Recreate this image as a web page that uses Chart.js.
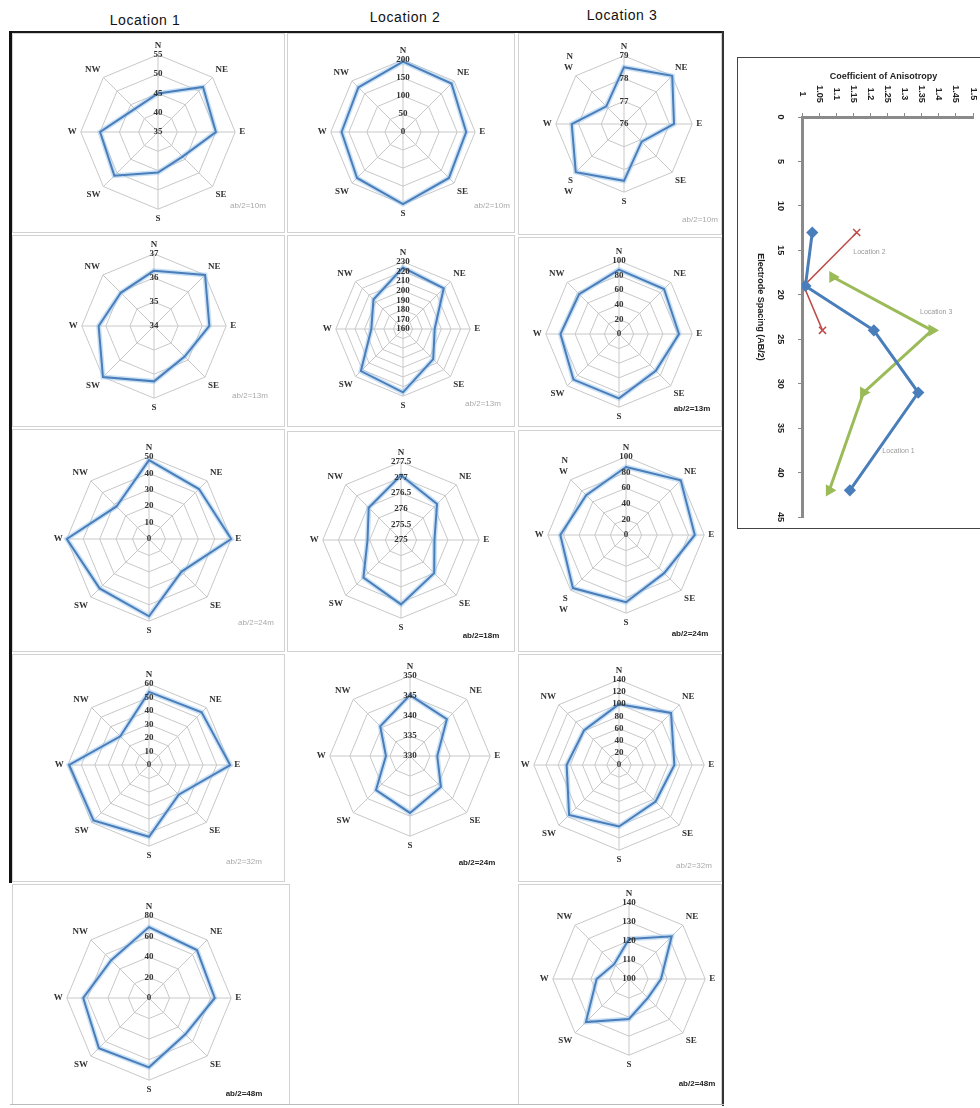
<!DOCTYPE html>
<html>
<head>
<meta charset="utf-8">
<title>Directional resistivity - Locations 1-3</title>
<script src="https://cdn.jsdelivr.net/npm/chart.js@4.4.1/dist/chart.umd.min.js"></script>
<style>
  body { margin: 0; background: #fff; }
  #page { position: relative; width: 980px; height: 1108px; overflow: hidden; font-family: 'Liberation Sans', Arial, sans-serif; }
  .head { position: absolute; font-size: 14px; color: #111; transform: translate(-50%, -50%); white-space: nowrap; letter-spacing: 0.6px; }
  .panel { position: absolute; border: 1px solid #d2d2d2; box-sizing: border-box; }
  .rule { position: absolute; }
  .holder { position: absolute; }
  .tag { position: absolute; font-size: 8px; color: #a9a9a9; transform: translate(-50%, -50%); white-space: nowrap; }
  .tag.dark { color: #222; font-weight: bold; }
</style>
</head>
<body>
<div id="page">
  <div class="head" style="left:145px; top:20px;">Location 1</div>
  <div class="head" style="left:405px; top:17px;">Location 2</div>
  <div class="head" style="left:622px; top:15px;">Location 3</div>

  <!-- column 1 -->
  <div class="panel" style="left:12px; top:33px; width:273px; height:200px;"></div>
  <div class="panel" style="left:12px; top:235px; width:273px; height:192px;"></div>
  <div class="panel" style="left:12px; top:429px; width:273px; height:223px;"></div>
  <div class="panel" style="left:12px; top:654px; width:273px; height:228px;"></div>
  <div class="panel" style="left:12px; top:884px; width:278px; height:221px;"></div>
  <!-- column 2 -->
  <div class="panel" style="left:287px; top:33px; width:228px; height:200px;"></div>
  <div class="panel" style="left:287px; top:235px; width:228px; height:192px;"></div>
  <div class="panel" style="left:287px; top:431px; width:228px; height:221px;"></div>
  <!-- column 3 -->
  <div class="panel" style="left:518px; top:33px; width:204px; height:202px;"></div>
  <div class="panel" style="left:518px; top:237px; width:204px; height:190px;"></div>
  <div class="panel" style="left:518px; top:430px; width:204px; height:222px;"></div>
  <div class="panel" style="left:518px; top:654px; width:204px; height:228px;"></div>
  <div class="panel" style="left:518px; top:884px; width:204px; height:221px;"></div>

  <!-- outer frame -->
  <div class="rule" style="left:10px; top:31px; width:714px; height:2px; background:#1a1a1a;"></div>
  <div class="rule" style="left:9px; top:31px; width:3px; height:852px; background:#111;"></div>
  <div class="rule" style="left:722px; top:31px; width:2px; height:1075px; background:#333;"></div>
  <div class="rule" style="left:10px; top:1104px; width:714px; height:1px; background:#bbb;"></div>

  <!-- anisotropy chart frame -->
  <div class="rule" style="left:737px; top:57px; width:250px; height:472px; border:1px solid #444; box-sizing:border-box;"></div>
  <div class="holder" style="left:738px; top:58px; width:242px; height:470px;"><canvas id="aniso"></canvas></div>
</div>

<script>
// compass directions used on every rose
const directions = ['N', 'NE', 'E', 'SE', 'S', 'SW', 'W', 'NW'];
const directionsSplit = ['N', 'NE', 'E', 'SE', 'S', ['S', 'W'], 'W', ['N', 'W']];

// apparent resistivity by direction (N, NE, E, SE, S, SW, W, NW)
const loc1_10m = [45, 51.5, 50, 44, 45.5, 51, 50, 43.5];
const loc1_13m = [36.3, 37, 36.3, 35.8, 36.3, 37, 36.3, 35.95];
const loc1_24m = [48, 43, 50, 28, 47, 42.5, 50, 28];
const loc1_32m = [54, 55, 60, 31, 53, 58, 59, 30];
const loc1_48m = [69, 66, 64, 50, 67.5, 69, 64, 52];

const loc2_10m = [195, 190, 175, 180, 200, 180, 170, 175];
const loc2_13m = [224, 220, 193, 204.5, 226, 222, 193, 203.5];
const loc2_18m = [277.07, 276.63, 276.07, 276.5, 277.06, 276.7, 276.07, 276.46];
const loc2_24m = [345.2, 343, 336.8, 340.9, 344.2, 342, 336, 340.5];

const loc3_10m = [78.5, 79, 78.2, 77.1, 78.5, 79, 78.3, 77.1];
const loc3_13m = [88, 87, 82, 71, 88, 88, 80, 77];
const loc3_24m = [87, 99, 88, 69, 86, 96, 84, 72];
const loc3_32m = [100, 121, 91, 85, 101, 116, 86, 81];
const loc3_48m = [121, 131.7, 116.8, 114, 121, 132, 117, 111];

// coefficient of anisotropy against electrode spacing
const loc1Spacing = [13, 19, 24, 31, 42];
const loc1Anisotropy = [1.03, 1.01, 1.21, 1.34, 1.14];
const loc2Spacing = [13, 19, 24];
const loc2Anisotropy = [1.16, 1.005, 1.06];
const loc3Spacing = [18, 24, 31, 42];
const loc3Anisotropy = [1.09, 1.38, 1.18, 1.08];

const seriesNames = ['Location 1', 'Location 2', 'Location 3'];

// where each rose sits on the page
const roses = [
    { values: loc1_10m, min: 35, max: 55, step: 5, cx: 157, cy: 133, r: 77, tag: 'ab/2=10m', tx: 248, ty: 205 },
    { values: loc2_10m, min: 0, max: 200, step: 50, cx: 402, cy: 133, r: 72, tag: 'ab/2=10m', tx: 492, ty: 205 },
    { values: loc3_10m, min: 76, max: 79, step: 1, cx: 623, cy: 125, r: 68, tag: 'ab/2=10m', tx: 700, ty: 219, split: true },

    { values: loc1_13m, min: 34, max: 37, step: 1, cx: 153, cy: 327, r: 72, tag: 'ab/2=13m', tx: 250, ty: 395 },
    { values: loc2_13m, min: 160, max: 230, step: 10, cx: 402, cy: 330, r: 67, tag: 'ab/2=13m', tx: 483, ty: 403 },
    { values: loc3_13m, min: 0, max: 100, step: 20, cx: 618, cy: 335, r: 73, tag: 'ab/2=13m', tx: 692, ty: 408, dark: true },

    { values: loc1_24m, min: 0, max: 50, step: 10, cx: 148, cy: 540, r: 82, tag: 'ab/2=24m', tx: 256, ty: 622 },
    { values: loc2_18m, min: 275, max: 277.5, step: 0.5, cx: 400, cy: 541, r: 78, tag: 'ab/2=18m', tx: 481, ty: 635, dark: true },
    { values: loc3_24m, min: 0, max: 100, step: 20, cx: 625, cy: 536, r: 78, tag: 'ab/2=24m', tx: 690, ty: 633, dark: true, split: true },

    { values: loc1_32m, min: 0, max: 60, step: 10, cx: 148, cy: 766, r: 81, tag: 'ab/2=32m', tx: 244, ty: 861 },
    { values: loc2_24m, min: 330, max: 350, step: 5, cx: 409, cy: 757, r: 80, tag: 'ab/2=24m', tx: 477, ty: 862, dark: true },
    { values: loc3_32m, min: 0, max: 140, step: 20, cx: 618, cy: 766, r: 85, tag: 'ab/2=32m', tx: 694, ty: 865 },

    { values: loc1_48m, min: 0, max: 80, step: 20, cx: 148, cy: 999, r: 82, tag: 'ab/2=48m', tx: 244, ty: 1093, dark: true },
    { values: loc3_48m, min: 100, max: 140, step: 10, cx: 628, cy: 980, r: 76, tag: 'ab/2=48m', tx: 697, ty: 1083, dark: true }
];

const labelFont = { family: "'Liberation Serif', 'DejaVu Serif', serif", size: 9, weight: 'bold' };
const lineBlue = '#4a7ebb';

function fmt(v) {
    return String(Math.round(v * 100) / 100);
}

// Excel puts the ring values on the north spoke, centre value included
const ringValues = {
    id: 'ringValues',
    afterDraw(chart) {
        const scale = chart.scales.r;
        const ctx = chart.ctx;
        ctx.save();
        ctx.font = `bold 9px ${labelFont.family}`;
        ctx.fillStyle = '#333';
        ctx.textAlign = 'center';
        ctx.textBaseline = 'middle';
        scale.ticks.forEach((tick) => {
            const d = scale.getDistanceFromCenterForValue(tick.value);
            ctx.fillText(fmt(tick.value), scale.xCenter, scale.yCenter - d);
        });
        ctx.restore();
    }
};

function drawRose(rose, index) {
    const page = document.getElementById('page');
    const side = 2 * (rose.r + 15);

    const holder = document.createElement('div');
    holder.className = 'holder';
    holder.style.left = (rose.cx - side / 2) + 'px';
    holder.style.top = (rose.cy - side / 2) + 'px';
    holder.style.width = side + 'px';
    holder.style.height = side + 'px';
    const canvas = document.createElement('canvas');
    canvas.id = 'rose' + index;
    holder.appendChild(canvas);
    page.appendChild(holder);

    const tag = document.createElement('div');
    tag.className = rose.dark ? 'tag dark' : 'tag';
    tag.style.left = rose.tx + 'px';
    tag.style.top = rose.ty + 'px';
    tag.textContent = rose.tag;
    page.appendChild(tag);

    new Chart(canvas, {
        type: 'radar',
        data: {
            labels: rose.split ? directionsSplit : directions,
            datasets: [
                { data: rose.values, borderColor: lineBlue, borderWidth: 2, fill: false },
                { data: rose.values, borderColor: 'rgba(150,195,235,0.5)', borderWidth: 5, fill: false }
            ]
        },
        options: {
            responsive: true,
            maintainAspectRatio: false,
            animation: false,
            events: [],
            elements: { line: { tension: 0 }, point: { radius: 0 } },
            plugins: { legend: { display: false }, tooltip: { enabled: false } },
            scales: {
                r: {
                    min: rose.min,
                    max: rose.max,
                    ticks: { stepSize: rose.step, display: false },
                    grid: { color: '#c8c8c8', lineWidth: 1 },
                    angleLines: { color: '#c8c8c8', lineWidth: 1 },
                    pointLabels: { font: labelFont, color: '#333', padding: 4 }
                }
            }
        },
        plugins: [ringValues]
    });
}

roses.forEach(drawRose);

// ---- anisotropy profile (chart was pasted turned on its side) ----
const sideFont = "bold 9px 'Liberation Sans', Arial, sans-serif";

const sideText = {
    id: 'sideText',
    afterDraw(chart) {
        const ctx = chart.ctx;
        const xs = chart.scales.x;
        const ys = chart.scales.y;
        const area = chart.chartArea;
        ctx.save();
        ctx.font = sideFont;
        ctx.fillStyle = '#222';
        ctx.textAlign = 'center';
        ctx.textBaseline = 'middle';

        xs.ticks.forEach((tick) => {
            ctx.save();
            ctx.translate(xs.getPixelForValue(tick.value), area.top - 23);
            ctx.rotate(Math.PI / 2);
            ctx.fillText(fmt(tick.value), 0, 0);
            ctx.restore();
        });
        ys.ticks.forEach((tick) => {
            ctx.save();
            ctx.translate(area.left - 22, ys.getPixelForValue(tick.value));
            ctx.rotate(Math.PI / 2);
            ctx.fillText(fmt(tick.value), 0, 0);
            ctx.restore();
        });

        ctx.fillText('Coefficient of Anisotropy', (area.left + area.right) / 2 - 4, area.top - 40);
        ctx.save();
        ctx.translate(area.left - 42, (area.top + area.bottom) / 2 - 10);
        ctx.rotate(Math.PI / 2);
        ctx.fillText('Electrode Spacing (AB/2)', 0, 0);
        ctx.restore();

        // series names, placed beside their lines
        ctx.font = "7px 'Liberation Sans', Arial, sans-serif";
        ctx.fillStyle = '#9a9a9a';
        ctx.textAlign = 'left';
        const spots = [[1.235, 37.6], [1.15, 15.2], [1.345, 21.9]];
        seriesNames.forEach((name, i) => {
            ctx.fillText(name, xs.getPixelForValue(spots[i][0]), ys.getPixelForValue(spots[i][1]));
        });
        ctx.restore();
    }
};

function points(xs, ys) {
    return xs.map((x, i) => ({ x: x, y: ys[i] }));
}

new Chart(document.getElementById('aniso'), {
    type: 'scatter',
    data: {
        datasets: [
            {
                label: seriesNames[0],
                data: points(loc1Anisotropy, loc1Spacing),
                showLine: true,
                borderColor: '#4a7ebb',
                backgroundColor: '#4a7ebb',
                borderWidth: 3,
                pointStyle: 'rectRot',
                pointRadius: 4
            },
            {
                label: seriesNames[1],
                data: points(loc2Anisotropy, loc2Spacing),
                showLine: true,
                borderColor: '#be4b48',
                backgroundColor: '#be4b48',
                borderWidth: 1.5,
                pointStyle: 'crossRot',
                pointRadius: 5,
                pointBorderWidth: 1.5
            },
            {
                label: seriesNames[2],
                data: points(loc3Anisotropy, loc3Spacing),
                showLine: true,
                borderColor: '#9bbb59',
                backgroundColor: '#9bbb59',
                borderWidth: 3,
                pointStyle: 'triangle',
                pointRotation: 90,
                pointRadius: 4
            }
        ]
    },
    options: {
        responsive: true,
        maintainAspectRatio: false,
        animation: false,
        events: [],
        layout: { padding: { left: 60, top: 55, right: 5, bottom: 11 } },
        plugins: { legend: { display: false }, tooltip: { enabled: false } },
        scales: {
            x: {
                type: 'linear',
                position: 'top',
                min: 1,
                max: 1.5,
                ticks: { stepSize: 0.05, display: false },
                grid: { display: true, drawOnChartArea: false, tickLength: 4, color: '#8a8a8a' },
                border: { display: true, color: '#8a8a8a', width: 3 }
            },
            y: {
                type: 'linear',
                reverse: true,
                min: 0,
                max: 45,
                ticks: { stepSize: 5, display: false },
                grid: { display: true, drawOnChartArea: false, tickLength: 4, color: '#8a8a8a' },
                border: { display: true, color: '#8a8a8a', width: 3 }
            }
        }
    },
    plugins: [sideText]
});
</script>
</body>
</html>
